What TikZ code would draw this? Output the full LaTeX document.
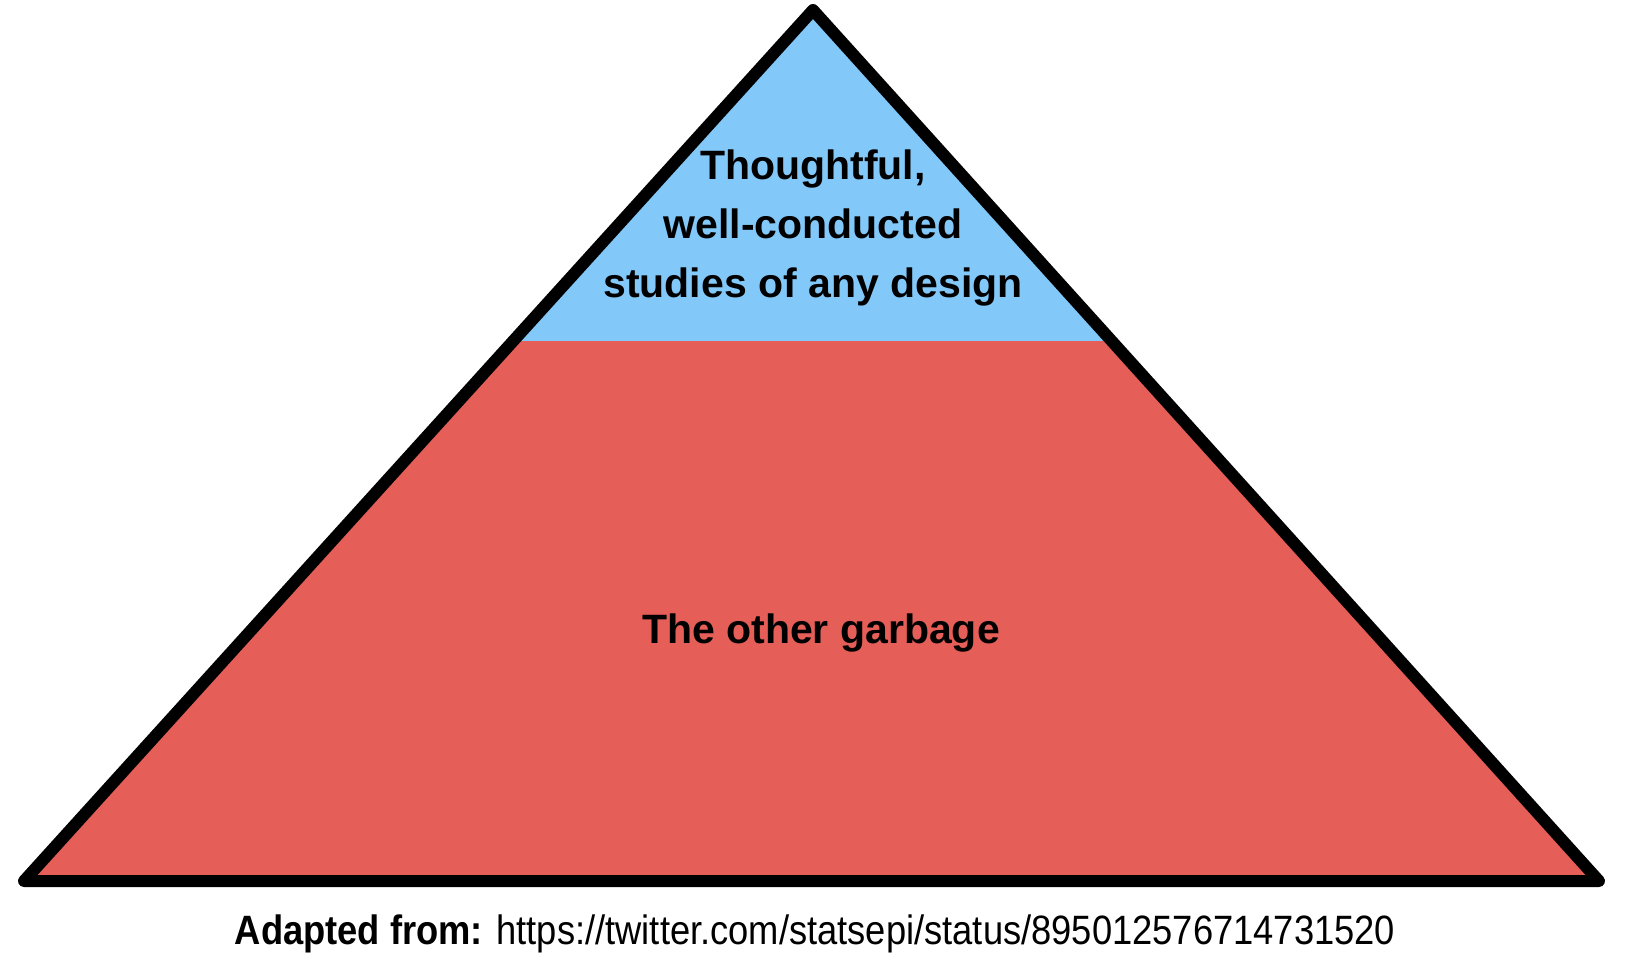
\documentclass[tikz,border=0pt]{standalone}
\usepackage{fontspec}
\setmainfont{Liberation Sans}
\usepackage{tikz}

\definecolor{topblue}{RGB}{130,200,248}
\definecolor{basered}{RGB}{230,94,88}

\begin{document}
\begin{tikzpicture}[x=1pt, y=-1pt]
        % canvas
        \useasboundingbox (0,0) rectangle (1626,956);

        % parameters
        \def\lw{12pt}     % outline width
        \def\cut{341}     % height of blue/red border

        % key points
        \coordinate (Top) at (813,10);
        \coordinate (BL) at (24,881);
        \coordinate (BR) at (1599,881);

        % fill the two layers
        \begin{scope}
            \clip (Top) -- (BL) -- (BR) -- cycle;
            \fill[basered] (0,0) rectangle (1626,956);
            \fill[topblue] (0,0) rectangle (1626,\cut);
        \end{scope}

        % outline
        \draw[line width=\lw, line join=round] (Top) -- (BL) -- (BR) -- cycle;

        % labels
        \node[align=center, inner sep=0pt, font=\bfseries\fontsize{41}{59}\selectfont]
        (good) at (813,228) {Thoughtful,\\well-conducted\\studies of any design};
        \node[anchor=base, inner sep=0pt, font=\bfseries\fontsize{41}{49}\selectfont]
        (rest) at (821,643) {The other garbage};

        % source
        \node[anchor=base, inner sep=0pt, font=\fontsize{41}{49}\selectfont]
        (source) at (815,944) {\scalebox{0.886}[1]{\textbf{Adapted from:} https://twitter.com/statsepi/status/895012576714731520}};

    \end{tikzpicture}
\end{document}
